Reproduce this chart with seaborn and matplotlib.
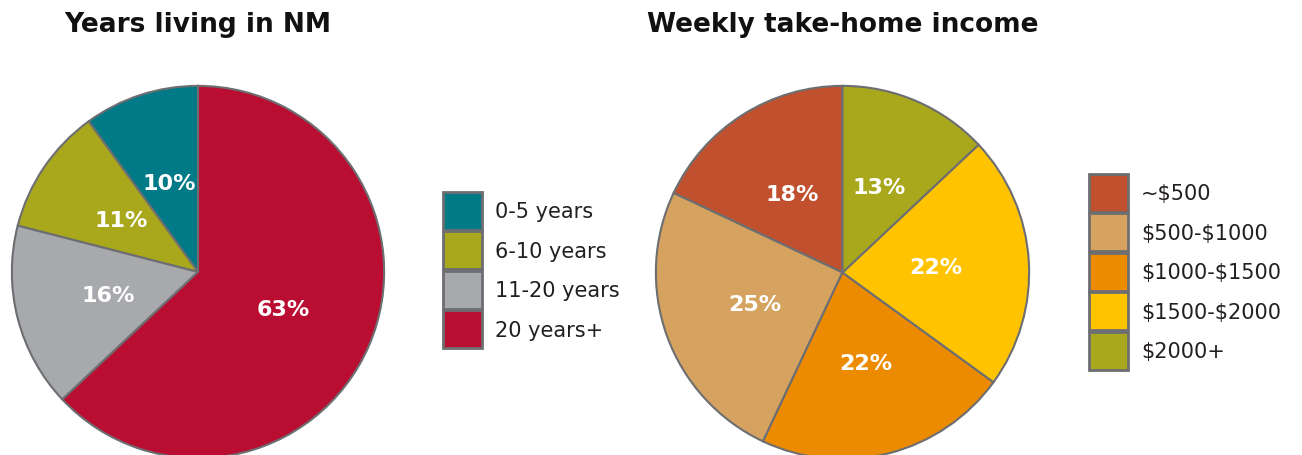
import matplotlib
matplotlib.use('Agg')
import matplotlib.pyplot as plt
import matplotlib.patches as mpatches
import seaborn as sns

# Years living in NM
years_labels = ['0-5 years', '6-10 years', '11-20 years', '20 years+']
years_values = [10, 11, 16, 63]
years_colors = ['#007a87', '#a9a81d', '#a7a9ac', '#b90e31']

# Weekly take-home income
income_labels = ['~$500', '$500-$1000', '$1000-$1500', '$1500-$2000', '$2000+']
income_values = [18, 25, 22, 22, 13]
income_colors = ['#c1502e', '#d5a35f', '#ec8a00', '#ffc300', '#a9a81d']

EDGE = '#6d6e71'
W, H = 1302, 456


def px_rect(x0, y0, w, h):
    '''convert pixel box (top-left origin) to figure fractions'''
    return [x0 / W, 1 - (y0 + h) / H, w / W, h / H]


def draw_pie(ax, values, colors):
    wedges, texts, autotexts = ax.pie(
        values, colors=colors, startangle=90, counterclock=True,
        autopct='%d%%', pctdistance=0.5,
        wedgeprops=dict(edgecolor=EDGE, linewidth=1.5),
        textprops=dict(color='white', fontsize=16, fontweight='bold'))
    ax.set_xlim(-1.01, 1.01)
    ax.set_ylim(-1.01, 1.01)
    ax.axis('off')
    return wedges


def add_legend(fig, labels, colors, x0, y0):
    handles = [mpatches.Patch(facecolor=c, edgecolor=EDGE, linewidth=2,
                              label=l) for c, l in zip(colors, labels)]
    fig.legend(handles=handles, loc='upper left',
               bbox_to_anchor=(x0 / W, 1 - y0 / H), frameon=False,
               fontsize=15, handlelength=1.87, handleheight=2.43,
               labelspacing=0.07, handletextpad=0.62, borderpad=0,
               borderaxespad=0, labelcolor='#231f20')


def main():
    sns.set_theme(style='white')
    plt.rcParams['font.family'] = ['DejaVu Sans']
    plt.rcParams['text.parse_math'] = False

    fig = plt.figure(figsize=(W / 100, H / 100), dpi=100)

    ax1 = fig.add_axes(px_rect(10, 85, 376, 376))
    draw_pie(ax1, years_values, years_colors)
    ax2 = fig.add_axes(px_rect(654, 85, 377, 377))
    draw_pie(ax2, income_values, income_colors)

    add_legend(fig, years_labels, years_colors, 443, 193)
    add_legend(fig, income_labels, income_colors, 1089, 175)

    fig.text(198 / W, 1 - 25 / H, 'Years living in NM', ha='center',
             va='center', fontsize=19, fontweight='bold', color='#111111')
    fig.text(843 / W, 1 - 25 / H, 'Weekly take-home income', ha='center',
             va='center', fontsize=19, fontweight='bold', color='#111111')

    fig.savefig('out.png', dpi=100, facecolor='white')


if __name__ == '__main__':
    main()
